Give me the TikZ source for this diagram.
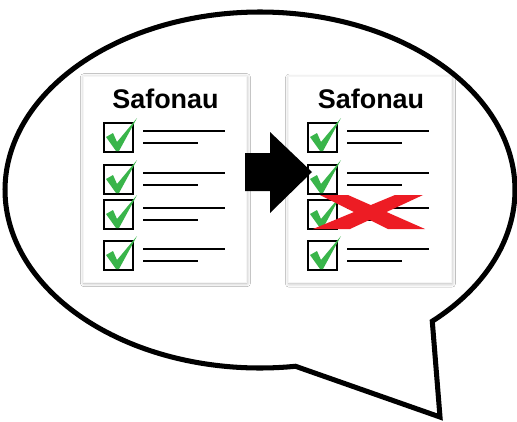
\documentclass[tikz,border=0pt]{standalone}
\usepackage{fontspec}
\setmainfont{Liberation Sans}
\usetikzlibrary{calc}
\usetikzlibrary{shadows.blur}

\definecolor{tickgreen}{RGB}{57,181,74}
\definecolor{crossred}{RGB}{237,28,36}

\tikzset{
    bubble/.style={line width=4.3pt, fill=white},
    card/.style={draw=gray!8, line width=0.8pt, fill=white,
        minimum width=4.89cm, minimum height=6.18cm, inner sep=0pt,
        blur shadow={shadow xshift=0.8pt, shadow yshift=-1pt,
            shadow blur radius=3pt, shadow blur steps=8, shadow opacity=30}},
    listtitle/.style={font=\bfseries\fontsize{23}{27}\selectfont, inner sep=0pt},
    boxline/.style={line width=2.3pt},
    itemline/.style={line width=2.2pt},
}

\begin{document}
\begin{tikzpicture}[x=0.03cm,y=-0.03cm]
	\useasboundingbox (0,0) rectangle (517,421);

	% speech bubble with its tail
	\draw[bubble] plot[domain=82:407.5, samples=150, smooth]
		({260+255*cos(\x)},{190+178*sin(\x)}) -- (440,417) -- cycle;

	% the two lists
	\node[card] (oldlist) at (164.5,179) {};
	\node[card] (newlist) at (369.5,179.5) {};
	\node[listtitle] (oldtitle) at ($(oldlist.north)+(1,23)$) {Safonau};
	\node[listtitle] (newtitle) at ($(newlist.north)+(1.5,23)$) {Safonau};

	\foreach \cx in {104,308} {
		\foreach \by in {123,165,200,241} {
			\draw[itemline] ({\cx+39},{\by+8}) -- ++(82,0);
			\draw[itemline] ({\cx+39},{\by+20}) -- ++(55,0);
			\draw[boxline] (\cx,\by) rectangle ++(29,29);
			\fill[tickgreen] ({\cx+2},{\by+14}) -- ({\cx+9},{\by+10})
				-- ({\cx+13},{\by+19}) -- ({\cx+33},{\by-5})
				-- ({\cx+15},{\by+28}) -- ({\cx+12},{\by+28}) -- cycle;
		}
	}

	% block arrow
	\fill (245,153) -- (270,153) -- (270,132) -- (312,172)
		-- (270,213) -- (270,191) -- (245,191) -- cycle;

	% red cross
	\fill[crossred] (320,195) -- (348,195) -- (425,229) -- (388,229) -- cycle;
	\fill[crossred] (395,195) -- (423,195) -- (350,229) -- (313,229) -- cycle;
\end{tikzpicture}
\end{document}
